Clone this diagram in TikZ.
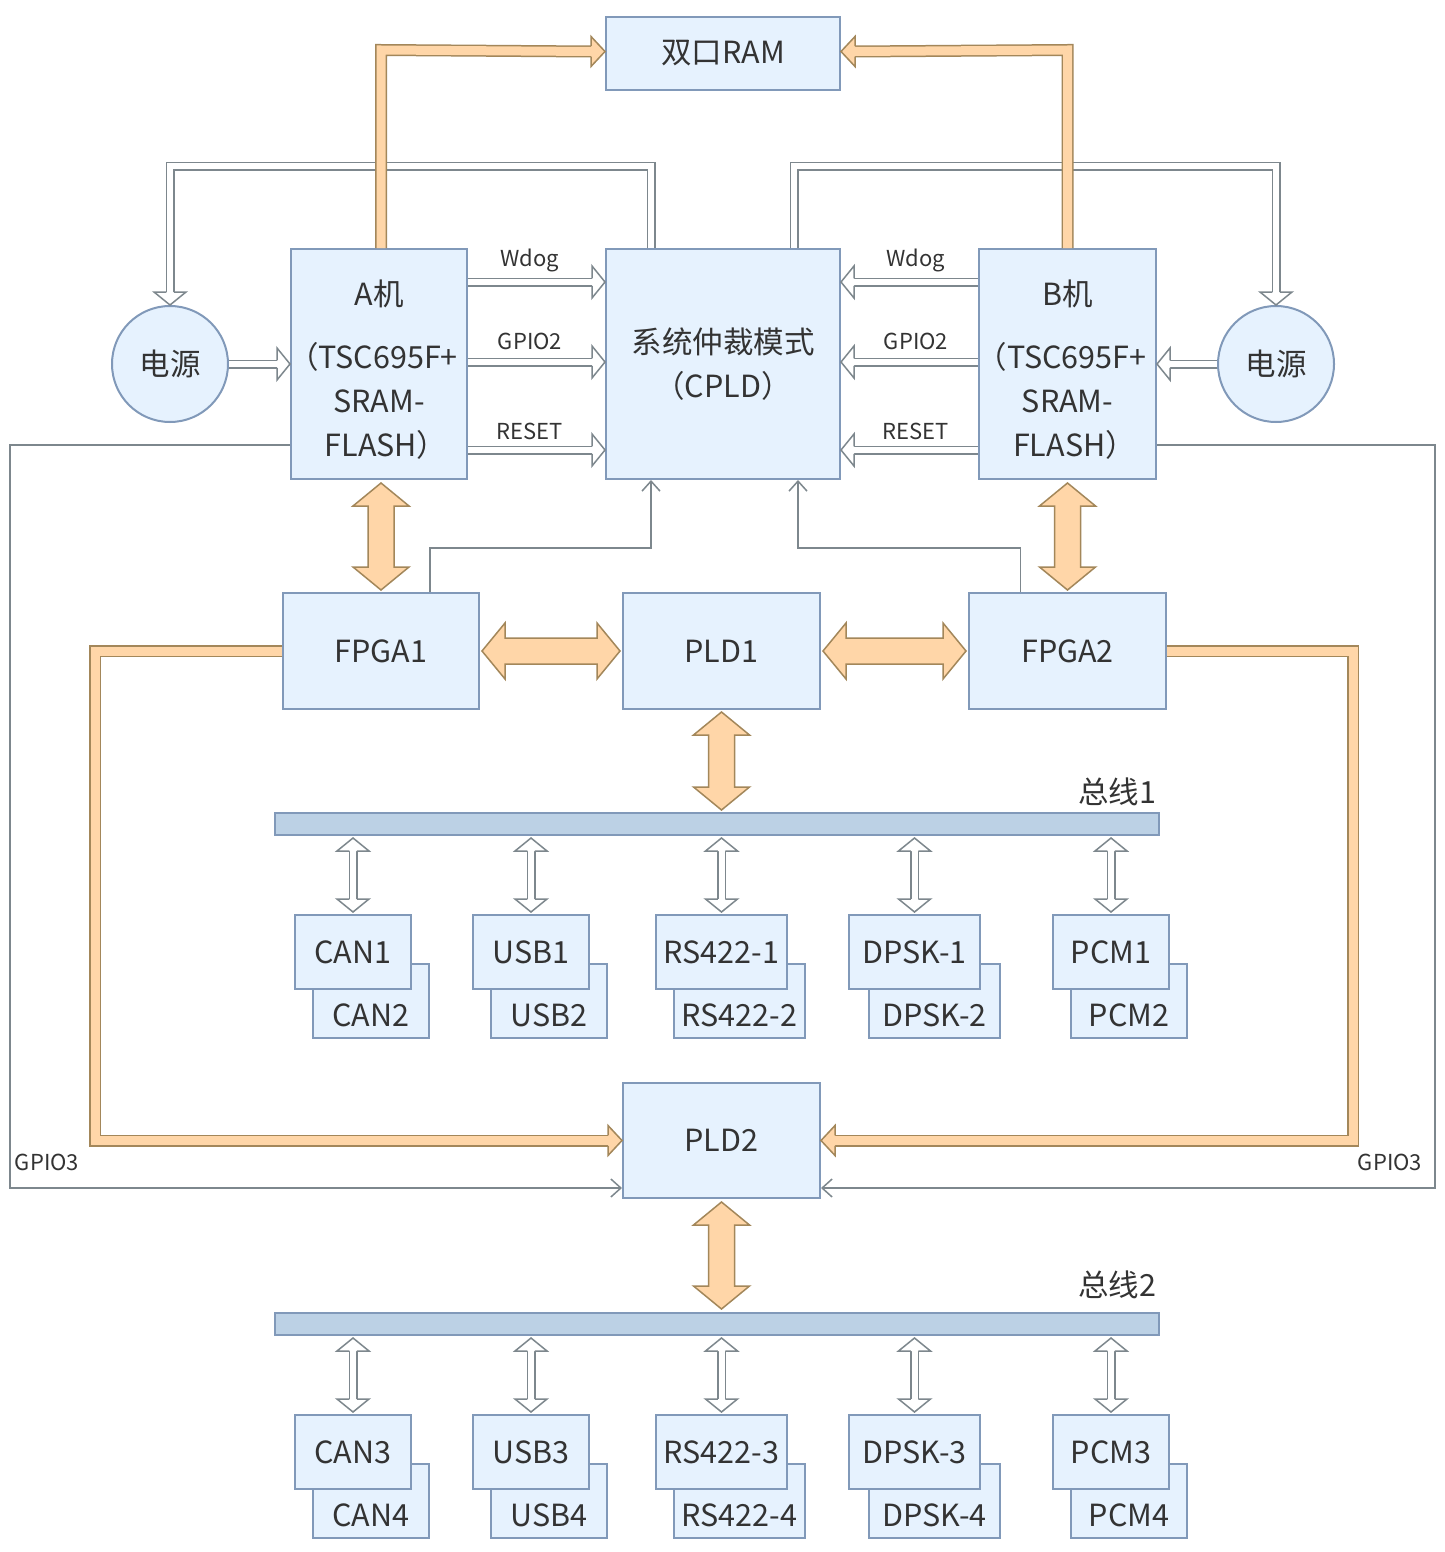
\documentclass[tikz,border=0pt]{standalone}
\usepackage{fontspec}
\setmainfont{Noto Sans CJK SC}
\usetikzlibrary{calc,arrows.meta}
\definecolor{bfill}{HTML}{E6F2FE}
\definecolor{bline}{HTML}{8199B9}
\definecolor{ofill}{HTML}{FFD6A8}
\definecolor{oline}{HTML}{A3875A}
\definecolor{gline}{HTML}{7D878D}
\definecolor{busfill}{HTML}{BCD1E5}
\definecolor{txt}{HTML}{333333}
\newcommand\mainf{\fontsize{30.5}{44}\selectfont}
\newcommand\overt[2]{\draw[obig] (#1) -- ++(28,23) -- ++(-15,0) -- ($(#2)+(13,-23)$) -- ++(15,0) -- (#2) -- ++(-28,-23) -- ++(15,0) -- ($(#1)+(-13,23)$) -- ++(-15,0) -- cycle;}
\newcommand\ohorz[2]{\draw[obig] (#1) -- ++(23,-28) -- ++(0,15) -- ($(#2)+(-23,-13)$) -- ++(0,-15) -- (#2) -- ++(-23,28) -- ++(0,-15) -- ($(#1)+(23,13)$) -- ++(0,15) -- cycle;}
\newcommand\ifpair[8]{%
  \node[sbox, minimum width=#4] (#1b) at (#2+#5,#3+49) {};
  \node[txtn] (#1bt) at (#2+#5,#3+63) {#7};
  \node[sbox, minimum width=#4] (#1) at (#2,#3) {#6};
  \draw[hollowline] ($(#1.north)+(0,-15)$) -- ($(#1.north |- #8.south)+(0,15)$);
  \pic[rotate=-90] at ($(#1.north)+(0,-2)$) {hhead};
  \pic[rotate=90] at ($(#1.north |- #8.south)+(0,2)$) {hhead};
}
\begin{document}
\begin{tikzpicture}[x=1pt,y=-1pt,
  box/.style={draw=bline, fill=bfill, line width=2pt, text=txt, font=\mainf, align=center, inner sep=0pt},
  sbox/.style={box, minimum height=74},
  circ/.style={circle, draw=bline, fill=bfill, line width=2pt, minimum size=116, inner sep=0pt, text=txt, font=\mainf},
  txtn/.style={text=txt, font=\mainf, align=center, inner sep=0pt},
  lab/.style={text=txt, font=\fontsize{22}{26}\selectfont, inner sep=0pt},
  busbar/.style={draw=bline, fill=busfill, line width=2pt, minimum width=884, minimum height=22, inner sep=0pt},
  hollowline/.style={draw=gline, double=white, double distance=6pt, line width=1.5pt, line join=miter},
  orangeline/.style={draw=oline, double=ofill, double distance=9pt, line width=1.5pt, line join=miter},
  obig/.style={draw=oline, fill=ofill, line width=1.5pt, line join=miter},
  thinarr/.style={draw=gline, line width=1.5pt, -{Straight Barb[length=10pt,width=18pt]}},
  hhead/.pic={\draw[draw=gline, line width=1.5pt, fill=white, line join=miter] (-13,-3.75) -- (-13,-16) -- (0,0) -- (-13,16) -- (-13,3.75);},
  ohead/.pic={\draw[draw=oline, fill=ofill, line width=1.5pt, line join=miter] (-14,-5.25) -- (-14,-15) -- (0,0) -- (-14,15) -- (-14,5.25);}
]
\fill[white] (0,0) rectangle (1444,1552);
\useasboundingbox (0,0) rectangle (1444,1552);

% main nodes
\node[box, minimum width=234, minimum height=73] (RAM) at (723,53.5) {双口RAM};
\node[box, minimum width=176, minimum height=230] (A) at (379,364) {};
\node[txtn] (At) at (379,370) {A机\\[19pt]\kern-12pt（TSC695F+\\SRAM-\\FLASH）\kern-14pt};
\node[box, minimum width=234, minimum height=230] (CPLD) at (723,364) {系统仲裁模式\\（CPLD）};
\node[box, minimum width=177, minimum height=230] (B) at (1067.5,364) {};
\node[txtn] (Bt) at (1067.5,370) {B机\\[19pt]\kern-12pt（TSC695F+\\SRAM-\\FLASH）\kern-14pt};
\node[circ] (PL) at (170,364) {电源};
\node[circ] (PR) at (1276,364) {电源};
\node[box, minimum width=196, minimum height=116] (F1) at (381,651) {FPGA1};
\node[box, minimum width=197, minimum height=116] (PLD1) at (721.5,651) {PLD1};
\node[box, minimum width=197, minimum height=116] (F2) at (1067.5,651) {FPGA2};
\node[box, minimum width=197, minimum height=115] (PLD2) at (721.5,1140.5) {PLD2};
\node[busbar] (bus1) at (717,824) {};
\node[busbar] (bus2) at (717,1324) {};
\node[txtn] (bus1t) at (1117,792) {总线1};
\node[txtn] (bus2t) at (1117,1285) {总线2};

% hollow power lines from CPLD to supplies
\draw[hollowline] ($(CPLD.north)+(-72,0)$) -- ++(0,-82) -| ($(PL.north)+(0,-13)$);
\pic[rotate=-90] at (PL.north) {hhead};
\draw[hollowline] ($(CPLD.north)+(71,0)$) -- ++(0,-82) -| ($(PR.north)+(0,-13)$);
\pic[rotate=-90] at (PR.north) {hhead};

% supplies to computers
\draw[hollowline] (PL.east) -- ($(A.west)+(-13,0)$);
\pic at (A.west) {hhead};
\draw[hollowline] (PR.west) -- ($(B.east)+(13,0)$);
\pic[rotate=180] at (B.east) {hhead};

% A -> CPLD signals
\draw[hollowline] ($(A.north east)+(0,34)$) -- node[lab, yshift=22pt] {Wdog} ($(CPLD.north west)+(-13,34)$);
\pic at ($(CPLD.north west)+(0,34)$) {hhead};
\draw[hollowline] ($(A.north east)+(0,114)$) -- node[lab, yshift=21pt] {GPIO2} ($(CPLD.north west)+(-13,114)$);
\pic at ($(CPLD.north west)+(0,114)$) {hhead};
\draw[hollowline] ($(A.south east)+(0,-30)$) -- node[lab, yshift=19pt] {RESET} ($(CPLD.south west)+(-13,-30)$);
\pic at ($(CPLD.south west)+(0,-30)$) {hhead};

% B -> CPLD signals
\draw[hollowline] ($(B.north west)+(0,34)$) -- node[lab, yshift=22pt] {Wdog} ($(CPLD.north east)+(13,34)$);
\pic[rotate=180] at ($(CPLD.north east)+(0,34)$) {hhead};
\draw[hollowline] ($(B.north west)+(0,114)$) -- node[lab, yshift=21pt] {GPIO2} ($(CPLD.north east)+(13,114)$);
\pic[rotate=180] at ($(CPLD.north east)+(0,114)$) {hhead};
\draw[hollowline] ($(B.south west)+(0,-30)$) -- node[lab, yshift=19pt] {RESET} ($(CPLD.south east)+(13,-30)$);
\pic[rotate=180] at ($(CPLD.south east)+(0,-30)$) {hhead};

% orange to dual-port RAM
\draw[orangeline] (F1.north |- A.north) -- ++(0,-198) -- ($(RAM.west)+(-14,-2)$);
\pic at ($(RAM.west)+(0,-2)$) {ohead};
\draw[orangeline] (B.north) -- ++(0,-198) -- ($(RAM.east)+(14,-2)$);
\pic[rotate=180] at ($(RAM.east)+(0,-2)$) {ohead};

% orange FPGA -> PLD2
\draw[orangeline] (F1.west) -- ++(-187,0) |- ($(PLD2.west)+(-14,0)$);
\pic at (PLD2.west) {ohead};
\draw[orangeline] (F2.east) -- ++(186,0) |- ($(PLD2.east)+(14,0)$);
\pic[rotate=180] at (PLD2.east) {ohead};

% big orange double arrows
\coordinate (a1) at ($(F1.north |- A.south)+(0,3)$);
\coordinate (b1) at ($(F1.north)+(0,-2)$);
\overt{a1}{b1}
\coordinate (a2) at ($(B.south)+(0,3)$);
\coordinate (b2) at ($(F2.north)+(0,-2)$);
\overt{a2}{b2}
\coordinate (a3) at ($(F1.east)+(2,0)$);
\coordinate (b3) at ($(PLD1.west)+(-2,0)$);
\ohorz{a3}{b3}
\coordinate (a4) at ($(PLD1.east)+(2,0)$);
\coordinate (b4) at ($(F2.west)+(-2,0)$);
\ohorz{a4}{b4}
\coordinate (a5) at ($(PLD1.south)+(0,2)$);
\coordinate (b5) at ($(PLD1.south |- bus1.north)+(0,-2)$);
\overt{a5}{b5}
\coordinate (a6) at ($(PLD2.south)+(0,3)$);
\coordinate (b6) at ($(PLD2.south |- bus2.north)+(0,-3)$);
\overt{a6}{b6}

% thin arrows
\draw[thinarr] ($(F1.north)+(49,0)$) -- ++(0,-44) -| ($(CPLD.south)+(-72,0)$);
\draw[thinarr] ($(F2.north)+(-47,0)$) -- ++(0,-44) -| ($(CPLD.south)+(75,0)$);
\draw[thinarr] ($(A.south west)+(0,-35)$) -| ($(PLD2.south west)+(-612,-11)$) -- ($(PLD2.south west)+(0,-11)$);
\draw[thinarr] ($(B.south east)+(0,-35)$) -| ($(PLD2.south east)+(614,-11)$) -- ($(PLD2.south east)+(0,-11)$);
\node[lab] (g3l) at (47,1162) {GPIO3};
\node[lab] (g3r) at (1390,1162) {GPIO3};

% interface boxes
\ifpair{CANa}{353}{952}{116}{18}{CAN1}{CAN2}{bus1}
\ifpair{USBa}{531}{952}{116}{18}{USB1}{USB2}{bus1}
\ifpair{RSa}{721.5}{952}{131}{18}{RS422-1}{RS422-2}{bus1}
\ifpair{DPa}{914.5}{952}{131}{20}{DPSK-1}{DPSK-2}{bus1}
\ifpair{PCMa}{1111}{952}{116}{18}{PCM1}{PCM2}{bus1}

\ifpair{CANc}{353}{1452}{116}{18}{CAN3}{CAN4}{bus2}
\ifpair{USBc}{531}{1452}{116}{18}{USB3}{USB4}{bus2}
\ifpair{RSc}{721.5}{1452}{131}{18}{RS422-3}{RS422-4}{bus2}
\ifpair{DPc}{914.5}{1452}{131}{20}{DPSK-3}{DPSK-4}{bus2}
\ifpair{PCMc}{1111}{1452}{116}{18}{PCM3}{PCM4}{bus2}
\end{tikzpicture}
\end{document}
